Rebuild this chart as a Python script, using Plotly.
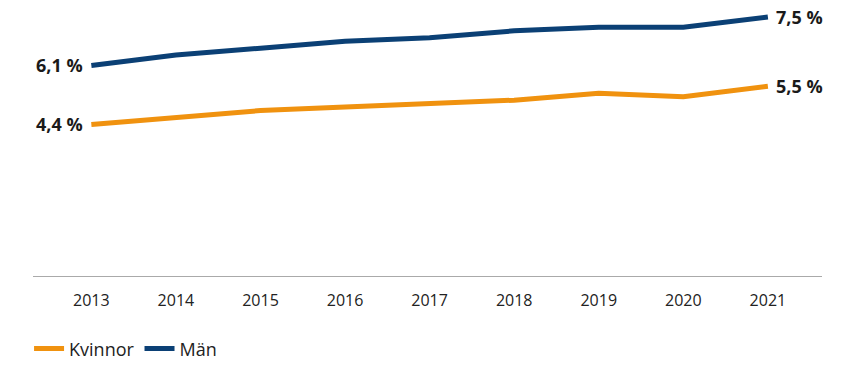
import plotly.graph_objects as go

years = [2013, 2014, 2015, 2016, 2017, 2018, 2019, 2020, 2021]
kvinnor = [4.4, 4.6, 4.8, 4.9, 5.0, 5.1, 5.3, 5.2, 5.5]
man = [6.1, 6.4, 6.6, 6.8, 6.9, 7.1, 7.2, 7.2, 7.5]
series_names = ["Kvinnor", "Män"]
colors = ["#f0920f", "#0b4075"]

def fmt(v):
    return f"{v:.1f}".replace(".", ",") + " %"

fig = go.Figure()
for name, vals, col in zip(series_names, [kvinnor, man], colors):
    fig.add_trace(go.Scatter(x=years, y=vals, name=name, mode="lines",
                             line=dict(color=col, width=5)))
    fig.add_annotation(x=years[0], y=vals[0], text=f"<b>{fmt(vals[0])}</b>",
                       showarrow=False, xanchor="right", xshift=-6,
                       font=dict(size=18, color="#1a1a1a", family="Open Sans"))
    fig.add_annotation(x=years[-1], y=vals[-1], text=f"<b>{fmt(vals[-1])}</b>",
                       showarrow=False, xanchor="left", xshift=6,
                       font=dict(size=18, color="#1a1a1a", family="Open Sans"))

# page body has an 8px margin, so the figure is sized/offset to compensate
fig.update_layout(
    width=851, height=359,
    margin=dict(l=25, r=37, t=2, b=90, autoexpand=False),
    paper_bgcolor="white", plot_bgcolor="white",
    font=dict(family="Open Sans", size=16, color="#222222"),
    showlegend=True,
    legend=dict(orientation="h", x=-0.005, y=-0.2, xanchor="left", yanchor="top",
                font=dict(size=18, color="#222222"), itemwidth=30),
    xaxis=dict(range=[2012.31, 2021.64], tickmode="array", tickvals=years,
               ticktext=[str(y) for y in years], showgrid=False, zeroline=False,
               showline=False, ticks="", ticklabelstandoff=12, automargin=False),
    yaxis=dict(range=[0, 7.7], showgrid=False, zeroline=False, showline=False,
               showticklabels=False, ticks="", automargin=False),
    shapes=[dict(type="line", xref="paper", yref="y", x0=0, x1=1, y0=0, y1=0,
                 line=dict(color="#555555", width=1))],
)

fig.write_html("out.html")
